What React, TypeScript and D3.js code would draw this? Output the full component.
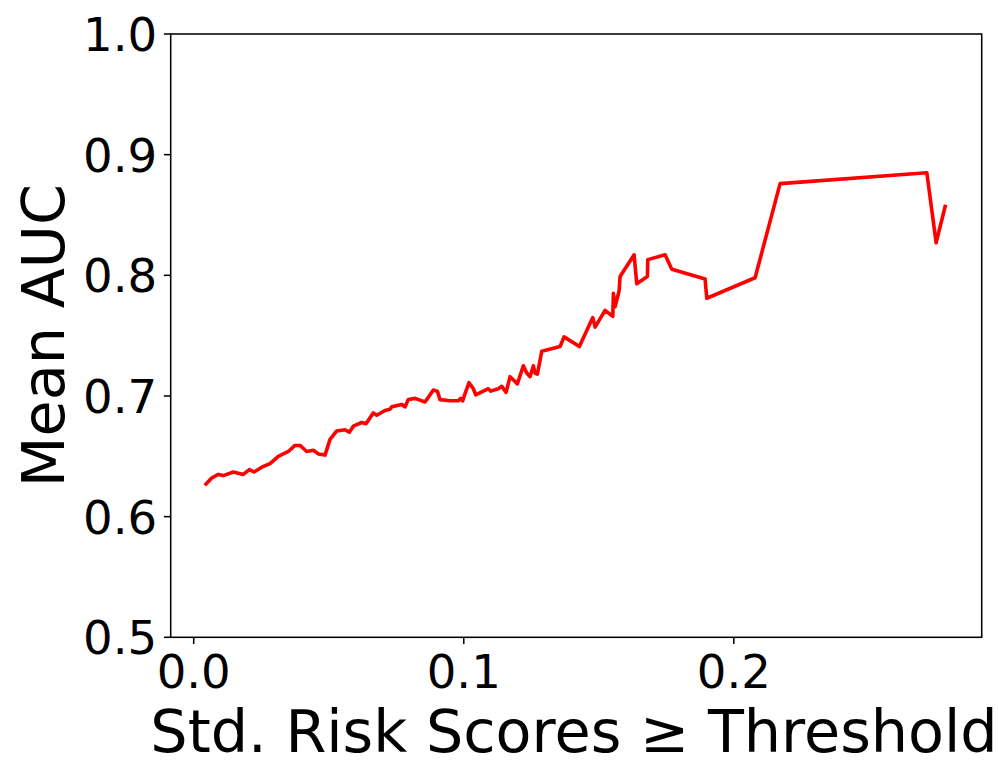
import React from "react";
import * as d3 from "d3";

const thresholds: number[] = [
  0.00456, 0.00667, 0.00911, 0.01096, 0.01467, 0.01837, 0.02059, 0.02233, 0.02519, 0.02826,
  0.03133, 0.03504, 0.03752, 0.03937, 0.04185, 0.0443, 0.04615, 0.04863, 0.05048, 0.05296,
  0.05604, 0.05763, 0.05911, 0.06222, 0.06381, 0.06652, 0.06778, 0.07085, 0.0727, 0.07333,
  0.07704, 0.07826, 0.07948, 0.08196, 0.08567, 0.08874, 0.09022, 0.09122, 0.09493, 0.098,
  0.09889, 0.09963, 0.10048, 0.10196, 0.10356, 0.10444, 0.10911, 0.11, 0.11281, 0.11407,
  0.11567, 0.11715, 0.119, 0.11985, 0.12207, 0.12333, 0.12456, 0.12578, 0.12641, 0.12726,
  0.12889, 0.13567, 0.13715, 0.14281, 0.14778, 0.14863, 0.15233, 0.15519, 0.15541, 0.15604,
  0.15752, 0.15789, 0.16307, 0.16407, 0.168, 0.16815, 0.17456, 0.17704, 0.18937, 0.19,
  0.20789, 0.21715, 0.27148, 0.27493, 0.27826,
];

const meanAuc: number[] = [
  0.627, 0.632, 0.635, 0.634, 0.637, 0.635, 0.639, 0.637, 0.641, 0.644,
  0.65, 0.654, 0.659, 0.659, 0.654, 0.655, 0.652, 0.651, 0.664, 0.671,
  0.672, 0.67, 0.675, 0.678, 0.677, 0.686, 0.684, 0.688, 0.689, 0.691,
  0.693, 0.691, 0.697, 0.698, 0.695, 0.705, 0.704, 0.697, 0.696, 0.696,
  0.698, 0.696, 0.702, 0.711, 0.706, 0.701, 0.706, 0.704, 0.706, 0.708,
  0.703, 0.716, 0.712, 0.71, 0.725, 0.719, 0.716, 0.725, 0.719, 0.718,
  0.737, 0.741, 0.749, 0.741, 0.765, 0.757, 0.771, 0.766, 0.785, 0.774,
  0.787, 0.799, 0.817, 0.793, 0.799, 0.813, 0.817, 0.805, 0.797, 0.781,
  0.798, 0.876, 0.885, 0.827, 0.857,
];

const xTicks: number[] = [0.0, 0.1, 0.2];
const yTicks: number[] = [0.5, 0.6, 0.7, 0.8, 0.9, 1.0];
const xLabel = "Std. Risk Scores \u2265 Threshold";
const yLabel = "Mean AUC";

const W = 998;
const H = 780;
const left = 170.7;
const right = 981.7;
const top = 34;
const bottom = 637.3;

export default function App() {
  const x = d3.scaleLinear().domain([-0.00852, 0.2918]).range([left, right]);
  const y = d3.scaleLinear().domain([0.5, 1.0]).range([bottom, top]);
  const pts: [number, number][] = thresholds.map((t, i) => [t, meanAuc[i]]);
  const line = d3
    .line<[number, number]>()
    .x((d) => x(d[0]))
    .y((d) => y(d[1]));
  const font = "'DejaVu Sans', sans-serif";
  const tickFs = 46.6;
  const labelFs = 58.8;
  const tickLen = 6.8;
  return (
    <div style={{ position: "absolute", left: 0, top: 0 }}>
      <svg width={W} height={H} style={{ display: "block" }}>
        <rect x={0} y={0} width={W} height={H} fill="#fff" />
        <path d={line(pts) || ""} fill="none" stroke="#ff0000" strokeWidth={3.6} strokeLinejoin="round" strokeLinecap="square" />
        <rect x={left} y={top} width={right - left} height={bottom - top} fill="none" stroke="#000" strokeWidth={1.55} />
        {xTicks.map((t) => (
          <g key={"x" + t}>
            <line x1={x(t)} x2={x(t)} y1={bottom} y2={bottom + tickLen} stroke="#000" strokeWidth={1.55} />
            <text x={x(t)} y={688} textAnchor="middle" fontFamily={font} fontSize={tickFs} fill="#000">
              {t.toFixed(1)}
            </text>
          </g>
        ))}
        {yTicks.map((t) => (
          <g key={"y" + t}>
            <line x1={left - tickLen} x2={left} y1={y(t)} y2={y(t)} stroke="#000" strokeWidth={1.55} />
            <text x={left - tickLen - 6.8} y={y(t) + 17} textAnchor="end" fontFamily={font} fontSize={tickFs} fill="#000">
              {t.toFixed(1)}
            </text>
          </g>
        ))}
        <text x={574} y={752} textAnchor="middle" fontFamily={font} fontSize={labelFs} fill="#000">
          {xLabel}
        </text>
        <text
          transform={`translate(64, ${(top + bottom) / 2}) rotate(-90)`}
          textAnchor="middle"
          fontFamily={font}
          fontSize={labelFs}
          fill="#000"
        >
          {yLabel}
        </text>
      </svg>
    </div>
  );
}
